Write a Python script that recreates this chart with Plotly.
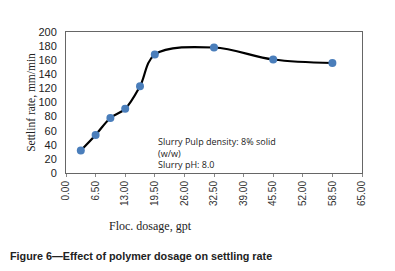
import plotly.graph_objects as go

dosage = [3.25, 6.5, 9.75, 13.0, 16.25, 19.5, 32.5, 45.5, 58.5]
settling_rate = [32, 54, 78, 91, 123, 168, 178, 161, 156]
x_ticks = [0, 6.5, 13, 19.5, 26, 32.5, 39, 45.5, 52, 58.5, 65]
y_ticks = [0, 20, 40, 60, 80, 100, 120, 140, 160, 180, 200]

fig = go.Figure()
fig.add_trace(go.Scatter(
    x=dosage, y=settling_rate, mode="lines+markers",
    line=dict(color="black", width=2.2, shape="spline", smoothing=1.0),
    marker=dict(color="#4A7EBB", size=8),
    showlegend=False,
))

fig.update_layout(
    width=387, height=263,
    margin=dict(l=58, r=33, t=24, b=98, autoexpand=False),
    plot_bgcolor="white", paper_bgcolor="white",
    font=dict(family="Liberation Sans, Arial", color="#222"),
)
fig.update_xaxes(
    range=[0, 65], tickvals=x_ticks, ticktext=[f"{v:.2f}" for v in x_ticks],
    tickangle=-90, tickfont=dict(size=10, color="#333"), automargin=False,
    showgrid=False, zeroline=False, showline=True, linecolor="#666", linewidth=1,
    mirror=True, ticks="outside", ticklen=3, tickcolor="#888",
)
fig.update_yaxes(
    range=[0, 200], tickvals=y_ticks, tickfont=dict(size=11, color="#222"), automargin=False,
    showgrid=False, zeroline=False, showline=True, linecolor="#666", linewidth=1,
    mirror=True, ticks="", ticklabelstandoff=6,
    title=dict(text="Settlinf rate, mm/min", font=dict(family="Liberation Serif, Times New Roman", size=11.5, color="#222"), standoff=0),
)
fig.add_annotation(
    xref="paper", yref="paper", x=0.287, y=-0.376, xanchor="center", yanchor="middle",
    text="Floc. dosage, gpt", showarrow=False,
    font=dict(family="Liberation Serif, Times New Roman", size=12, color="#222"),
)
fig.add_annotation(
    xref="paper", yref="paper", x=-0.196, y=-0.589, xanchor="left", yanchor="middle",
    text="<b>Figure 6—Effect of polymer dosage on settling rate</b>", showarrow=False,
    font=dict(family="Liberation Sans, Arial", size=10.8, color="#222"),
)
fig.add_annotation(
    xref="paper", yref="paper", x=0.305, y=0.0, xanchor="left", yanchor="bottom",
    text="Slurry Pulp density: 8% solid<br>(w/w)<br>Slurry pH: 8.0", showarrow=False, align="left",
    font=dict(family="Open Sans", size=9, color="#222"),
)
fig.write_html("out.html")
